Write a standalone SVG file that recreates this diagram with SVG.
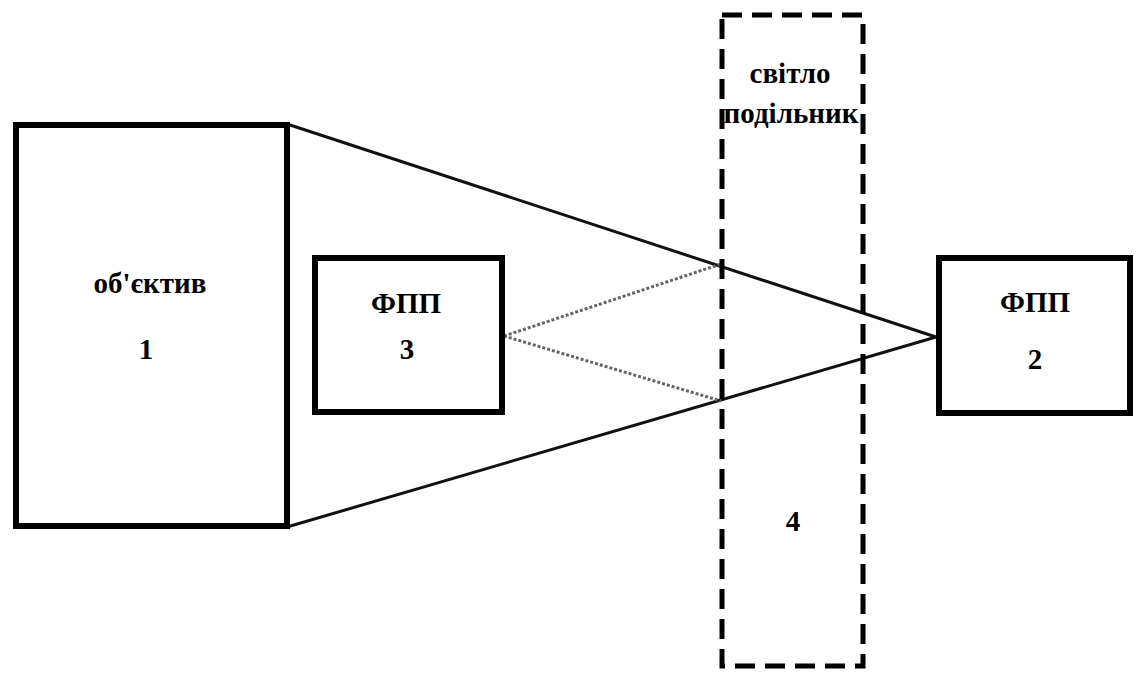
<svg xmlns="http://www.w3.org/2000/svg" width="1140" height="673" viewBox="0 0 1140 673">
<style>
.box{fill:#fff;stroke:#000;stroke-width:6}
.t{font-family:"Liberation Serif","Times New Roman",serif;font-weight:bold;font-size:29px;text-anchor:middle;fill:#000}
.ray{stroke:#111;stroke-width:3;fill:none}
.dot{stroke:#666;stroke-width:3;stroke-dasharray:3 2;fill:none}
</style>
<rect width="1140" height="673" fill="#fff"/>
<g id="connectors">
<line class="ray" x1="287" y1="124" x2="936" y2="337"/>
<line class="ray" x1="287" y1="527" x2="936" y2="337"/>
<line class="dot" x1="504" y1="336" x2="721" y2="264"/>
<line class="dot" x1="504" y1="336" x2="721" y2="401"/>
</g>
<g id="splitter">
<rect x="722" y="15" width="141" height="651" fill="none" stroke="#000" stroke-width="5" stroke-dasharray="20 10"/>
<text class="t" x="790" y="83">світло</text>
<text class="t" x="791" y="123">подільник</text>
<text class="t" x="793" y="531">4</text>
</g>
<g id="lens">
<rect class="box" x="16" y="125" width="271" height="401"/>
<text class="t" x="150" y="293">об'єктив</text>
<text class="t" x="146" y="359">1</text>
</g>
<g id="fpp3">
<rect class="box" x="315" y="258" width="187" height="154"/>
<text class="t" x="406" y="313">ФПП</text>
<text class="t" x="407" y="359">3</text>
</g>
<g id="fpp2">
<rect class="box" x="939" y="258" width="191" height="155"/>
<text class="t" x="1035" y="312">ФПП</text>
<text class="t" x="1035" y="369">2</text>
</g>
</svg>
